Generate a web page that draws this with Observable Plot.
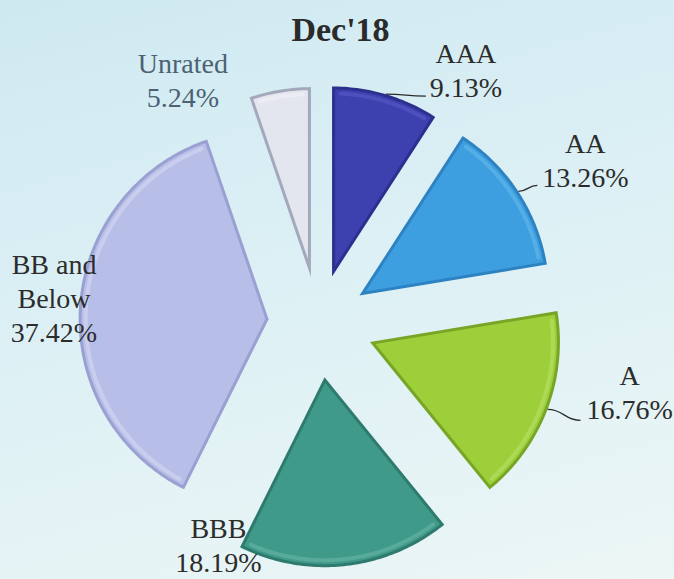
<!DOCTYPE html>
<html><head><meta charset="utf-8">
<script src="https://cdn.jsdelivr.net/npm/d3@7"></script>
<script src="https://cdn.jsdelivr.net/npm/@observablehq/plot@0.6"></script>
<style>
html,body{margin:0;padding:0;background:#d8eef4;}
#chart{width:674px;height:579px;}
</style></head><body><div id="chart"></div>
<script>
// ---- data ----
const title = "Dec'18";
const categories = ["AAA", "AA", "A", "BBB", "BB and Below", "Unrated"];
const shares = [9.13, 13.26, 16.76, 18.19, 37.42, 5.24];
const categoryLines = ["AAA", "AA", "A", "BBB", "BB and\nBelow", "Unrated"];

// ---- styles ----
const mainColors = ["#3d41b0", "#3d9fdf", "#9dcf3a", "#3f9a8a", "#b7bee8", "#e4e6ef"];
const rimColors  = ["#2c2f8e", "#2d82c2", "#77a627", "#2f7a6e", "#9aa1d2", "#a4a8bc"];
const hiColors   = ["#7074da", "#8fd0f5", "#d8f295", "#92d0c4", "#f4f5fd", "#ffffff"];
const textColors = ["#2c2c2c", "#2c2c2c", "#2c2c2c", "#2c2c2c", "#2c2c2c", "#4c6273"];

// ---- layout ----
const W = 674, H = 579, CX = 318, CY = 322, R = 190, INSET = 3, FS = 28, LH = 34;
const explode = [48, 49, 55, 55, 50, 46];
const labelOffset = [[80, -31], [67, -38], [82, -24], [-127, -28], [-25, -33], [-97, -17]];
const leaderEnd = [[40, 2], [19, -6], [33, 11], null, null, null];

const pie = d3.pie().sort(null).value(d => d)(shares);
const dir = a => [Math.sin(a), -Math.cos(a)];

function slicePoly(i, inset) {
  const {startAngle: a0, endAngle: a1} = pie[i];
  const mid = (a0 + a1) / 2, half = (a1 - a0) / 2;
  const [ux, uy] = dir(mid);
  const ox = CX + explode[i] * ux, oy = CY + explode[i] * uy;
  const shift = inset ? inset / Math.sin(half) : 0;
  const pts = [[ox + shift * ux, oy + shift * uy]];
  const r = R - inset;
  const trim = inset ? Math.asin(inset / r) : 0;
  const b0 = a0 + trim, b1 = a1 - trim;
  const n = Math.max(8, Math.ceil((b1 - b0) * 60));
  for (let k = 0; k <= n; ++k) {
    const a = b0 + (b1 - b0) * k / n;
    const [dx, dy] = dir(a);
    pts.push([ox + r * dx, oy + r * dy]);
  }
  return {pts, ox, oy, b0, b1, r};
}

const rimRows = [], mainRows = [], hiRows = [];
categories.forEach((c, i) => {
  slicePoly(i, 0).pts.forEach(([x, y]) => rimRows.push({key: c, x, y, fill: rimColors[i]}));
  const s = slicePoly(i, INSET);
  s.pts.forEach(([x, y]) => mainRows.push({key: c, x, y, fill: mainColors[i]}));
  const n = 40, rr = s.r - 4;
  for (let k = 0; k <= n; ++k) {
    const a = s.b0 + 0.03 + (s.b1 - s.b0 - 0.06) * k / n;
    const [dx, dy] = dir(a);
    hiRows.push({key: c, x: s.ox + rr * dx, y: s.oy + rr * dy, stroke: hiColors[i]});
  }
});

// labels
const textRows = [], leaders = [];
categories.forEach((c, i) => {
  const {startAngle: a0, endAngle: a1} = pie[i];
  const [ux, uy] = dir((a0 + a1) / 2);
  const mx = CX + (explode[i] + R) * ux, my = CY + (explode[i] + R) * uy;
  const lx = mx + labelOffset[i][0], ly = my + labelOffset[i][1];
  const lines = [...categoryLines[i].split("\n"), shares[i].toFixed(2) + "%"];
  lines.forEach((t, j) => textRows.push({x: lx, y: ly + j * LH, text: t, color: textColors[i]}));
  if (leaderEnd[i]) leaders.push({x1: mx, y1: my, x2: mx + leaderEnd[i][0], y2: my + leaderEnd[i][1]});
});

const chart = Plot.plot({
  width: W, height: H, margin: 0,
  x: {domain: [0, W], range: [0, W], axis: null},
  y: {domain: [0, H], range: [0, H], axis: null},
  color: {type: "identity"},
  style: {
    background: "linear-gradient(165deg, #cfe9f1 0%, #dcf0f5 45%, #ecf6f5 100%)",
    fontFamily: "'Liberation Serif', 'Times New Roman', serif"
  },
  marks: [
    Plot.line(rimRows, {x: "x", y: "y", z: "key", fill: "fill", stroke: null, curve: "linear-closed"}),
    Plot.line(mainRows, {x: "x", y: "y", z: "key", fill: "fill", stroke: null, curve: "linear-closed"}),
    Plot.line(hiRows, {x: "x", y: "y", z: "key", stroke: "stroke", strokeWidth: 4, strokeOpacity: 0.3}),
    Plot.link(leaders, {x1: "x1", y1: "y1", x2: "x2", y2: "y2", stroke: "#2c2c2c", strokeWidth: 1.3, curve: "bump-x"}),
    Plot.text(textRows, {x: "x", y: "y", text: "text", fill: "color", fontSize: FS, lineAnchor: "bottom", textAnchor: "middle"}),
    Plot.text([title], {frameAnchor: "top", dx: 3, dy: 40, text: d => d, fontSize: 34, fontWeight: "bold", fill: "#2b2b2b", lineAnchor: "bottom"})
  ]
});
document.getElementById("chart").appendChild(chart);
</script>
</body></html>
